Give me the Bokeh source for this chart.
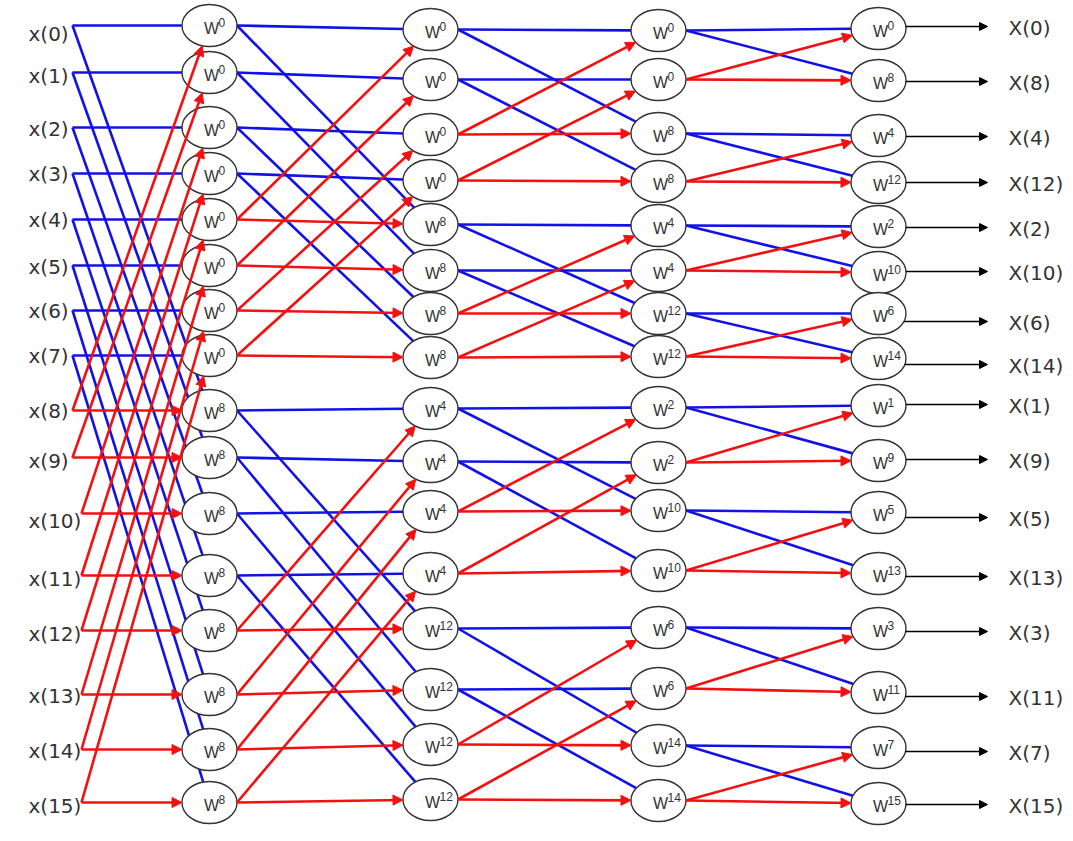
import math
from bokeh.plotting import figure
from bokeh.models import Range1d, Arrow, NormalHead, ColumnDataSource
from bokeh.core.properties import value
from bokeh.embed import file_html
from bokeh.resources import INLINE

# ---------------- data ----------------
input_labels = ["x(0)", "x(1)", "x(2)", "x(3)", "x(4)", "x(5)", "x(6)", "x(7)",
                "x(8)", "x(9)", "x(10)", "x(11)", "x(12)", "x(13)", "x(14)", "x(15)"]
output_labels = ["X(0)", "X(8)", "X(4)", "X(12)", "X(2)", "X(10)", "X(6)", "X(14)",
                 "X(1)", "X(9)", "X(5)", "X(13)", "X(3)", "X(11)", "X(7)", "X(15)"]
stage1_exp = [0, 0, 0, 0, 0, 0, 0, 0, 8, 8, 8, 8, 8, 8, 8, 8]
stage2_exp = [0, 0, 0, 0, 8, 8, 8, 8, 4, 4, 4, 4, 12, 12, 12, 12]
stage3_exp = [0, 0, 8, 8, 4, 4, 12, 12, 2, 2, 10, 10, 6, 6, 14, 14]
stage4_exp = [0, 8, 4, 12, 2, 10, 6, 14, 1, 9, 5, 13, 3, 11, 7, 15]
butterfly_span = [8, 4, 2, 1]

# ---------------- layout (page pixels) ----------------
COL_X = [209, 430, 658, 878]
ROW_Y = [
    [25, 72, 127, 173, 219, 265, 310, 355, 410, 457, 513, 575, 630, 694, 749, 802],
    [29, 79, 134, 180, 224, 270, 313, 357, 408, 461, 511, 573, 628, 689, 744, 799],
    [30, 79, 133, 181, 225, 270, 313, 356, 407, 462, 510, 570, 627, 688, 745, 800],
    [28, 80, 135, 182, 226, 272, 313, 358, 405, 460, 512, 573, 628, 692, 747, 803],
]
IN_LABEL_Y = [33, 75, 128, 173, 219, 266, 310, 355, 410, 460, 520, 578, 633, 695, 750, 805]
OUT_LABEL_Y = [27, 82, 137, 183, 228, 272, 322, 365, 405, 460, 518, 577, 632, 697, 752, 805]
A, B = 27.5, 21.0
BLUE = "#1212e6"
RED = "#f21010"
TXT = "#333333"

W, H = 1065, 833
p = figure(width=W, height=H, output_backend="svg", toolbar_location=None,
           x_range=Range1d(0, W), y_range=Range1d(H, 0), min_border=0)
p.axis.visible = False
p.grid.visible = False
p.outline_line_color = None
p.background_fill_color = "white"
p.border_fill_color = "white"


def clip(px, py, cx, cy):
    dx, dy = px - cx, py - cy
    q = (dx / A) ** 2 + (dy / B) ** 2
    s = 1.0 / math.sqrt(q)
    return cx + dx * s, cy + dy * s


blue = dict(x0=[], y0=[], x1=[], y1=[])
red = dict(x0=[], y0=[], x1=[], y1=[])


def add(d, sx, sy, ex, ey):
    d["x0"].append(sx); d["y0"].append(sy); d["x1"].append(ex); d["y1"].append(ey)


for s, h in enumerate(butterfly_span):
    for b in range(0, 16, 2 * h):
        for k in range(h):
            top, bot = b + k, b + k + h
            if s == 0:
                src = lambda i: (72 if i < 10 else 81, ROW_Y[0][i])
            else:
                src = lambda i, s=s: (COL_X[s - 1] + A, ROW_Y[s - 1][i])
            cx = COL_X[s]
            for (i, j, d) in [(top, top, blue), (top, bot, blue), (bot, top, red), (bot, bot, red)]:
                sx, sy = src(i)
                ex, ey = clip(sx, sy, cx, ROW_Y[s][j])
                add(d, sx, sy, ex, ey)

p.segment(x0="x0", y0="y0", x1="x1", y1="y1", source=ColumnDataSource(blue),
          line_color=BLUE, line_width=2.6)
p.add_layout(Arrow(end=NormalHead(size=10, fill_color=RED, line_color=RED, line_width=1),
                   source=ColumnDataSource(red), x_start="x0", y_start="y0",
                   x_end="x1", y_end="y1", line_color=RED, line_width=2.6))

# output arrows
ox0, oy, ox1 = [], [], []
for i in range(16):
    cy = ROW_Y[3][i]
    ly = OUT_LABEL_Y[i] - 1
    t = max(0.0, 1 - ((ly - cy) / B) ** 2)
    ox0.append(COL_X[3] + A * math.sqrt(t))
    oy.append(ly)
    ox1.append(987)
p.add_layout(Arrow(end=NormalHead(size=8, fill_color="black", line_color="black", line_width=1),
                   source=ColumnDataSource(dict(x0=ox0, y0=oy, x1=ox1, y1=oy)),
                   x_start="x0", y_start="y0", x_end="x1", y_end="y1",
                   line_color="black", line_width=1.4))

# nodes
exps = [stage1_exp, stage2_exp, stage3_exp, stage4_exp]
nx, ny, sup = [], [], []
for s in range(4):
    for i in range(16):
        nx.append(COL_X[s]); ny.append(ROW_Y[s][i]); sup.append(str(exps[s][i]))
p.ellipse(x=nx, y=ny, width=2 * A, height=2 * B, fill_color="white",
          line_color="#333333", line_width=1.4)
p.text(x=[v + 2 for v in nx], y=[v + 3 for v in ny], text=["W"] * len(nx),
       text_font=value("Liberation Sans"), text_font_size="16px", text_color=TXT,
       text_align="center", text_baseline="middle")
p.text(x=[v + 9 for v in nx], y=[v - 3 for v in ny], text=sup,
       text_font=value("Liberation Sans"), text_font_size="12px", text_color=TXT,
       text_align="left", text_baseline="middle")

# labels
p.text(x=[28] * 16, y=IN_LABEL_Y, text=input_labels, text_font=value("DejaVu Sans"),
       text_font_size="20px", text_color=TXT, text_align="left", text_baseline="middle")
p.text(x=[1008] * 16, y=OUT_LABEL_Y, text=output_labels, text_font=value("DejaVu Sans"),
       text_font_size="20px", text_color=TXT, text_align="left", text_baseline="middle")

open("out.html", "w").write(file_html(p, INLINE))
